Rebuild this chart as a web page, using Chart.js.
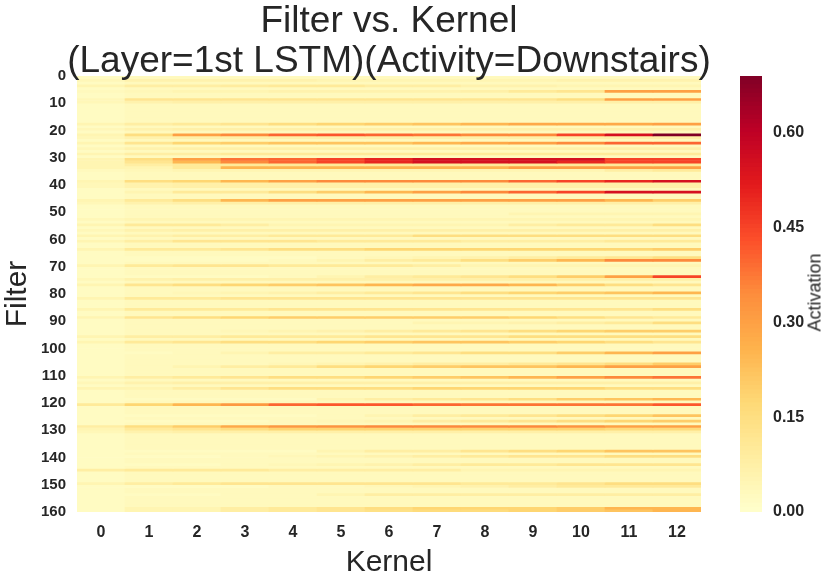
<!DOCTYPE html>
<html>
<head>
<meta charset="utf-8">
<script src="https://cdn.jsdelivr.net/npm/chart.js@4"></script>
<style>
  body { margin: 0; background: #fff; font-family: "Liberation Sans", Arial, sans-serif; }
  #wrap { position: relative; width: 833px; height: 581px; }
  #title { position: absolute; left: 0; top: 0; width: 778px; text-align: center; font-size: 37px; line-height: 40px; color: #262626; }
  #main { position: absolute; left: 0; top: 0; width: 720px; height: 581px; }
  #bar { position: absolute; left: 725px; top: 0; width: 108px; height: 581px; }
  #cbtitle { position: absolute; left: 765px; top: 282px; width: 100px; text-align: center; font-size: 18px; color: #262626; transform: rotate(-90deg); }
</style>
</head>
<body>
<div id="wrap">
  <div id="main"><canvas id="heat"></canvas></div>
  <div id="bar"><canvas id="cbar"></canvas></div>
  <div id="title">Filter vs. Kernel<br>(Layer=1st LSTM)(Activity=Downstairs)</div>
  <div id="cbtitle">Activation</div>
</div>
<script>
// kernels on x, filters on y
const kernels = ["0", "1", "2", "3", "4", "5", "6", "7", "8", "9", "10", "11", "12"];
const filterCount = 160;
const vmax = 0.69;
const cbarTicks = [0, 0.15, 0.30, 0.45, 0.60];

// quiet rows (most filters)
const quietRow = [0.02, 0.03, 0.03, 0.03, 0.03, 0.03, 0.03, 0.03, 0.03, 0.03, 0.03, 0.03, 0.03];
const softRow = [0.04, 0.06, 0.07, 0.07, 0.07, 0.07, 0.07, 0.07, 0.07, 0.07, 0.07, 0.07, 0.07];

// rows that stand out
const activeRows = {
  1: [0.04, 0.06, 0.06, 0.06, 0.06, 0.05, 0.05, 0.05, 0.05, 0.05, 0.06, 0.06, 0.06],
  3: [0.05, 0.08, 0.08, 0.09, 0.1, 0.1, 0.08, 0.08, 0.06, 0.06, 0.05, 0.05, 0.05],
  5: [0.03, 0.04, 0.05, 0.05, 0.06, 0.06, 0.06, 0.06, 0.07, 0.1, 0.12, 0.3, 0.3],
  8: [0.04, 0.12, 0.12, 0.12, 0.12, 0.12, 0.12, 0.12, 0.12, 0.12, 0.15, 0.3, 0.3],
  9: softRow,
  17: [0.05, 0.08, 0.1, 0.12, 0.15, 0.18, 0.2, 0.22, 0.25, 0.28, 0.28, 0.28, 0.3],
  19: softRow,
  21: [0.05, 0.15, 0.3, 0.35, 0.4, 0.42, 0.4, 0.38, 0.35, 0.35, 0.45, 0.55, 0.69],
  22: softRow,
  24: [0.05, 0.12, 0.18, 0.2, 0.22, 0.22, 0.22, 0.25, 0.28, 0.3, 0.35, 0.4, 0.4],
  26: softRow,
  28: [0.05, 0.08, 0.08, 0.1, 0.1, 0.1, 0.1, 0.1, 0.1, 0.1, 0.1, 0.1, 0.1],
  30: [0.05, 0.15, 0.3, 0.38, 0.4, 0.45, 0.5, 0.55, 0.55, 0.55, 0.55, 0.45, 0.45],
  31: [0.05, 0.12, 0.25, 0.35, 0.4, 0.45, 0.5, 0.55, 0.55, 0.55, 0.5, 0.45, 0.45],
  32: [0.05, 0.08, 0.1, 0.1, 0.1, 0.1, 0.1, 0.1, 0.1, 0.1, 0.1, 0.1, 0.1],
  33: [0.05, 0.05, 0.1, 0.25, 0.25, 0.25, 0.25, 0.25, 0.25, 0.3, 0.3, 0.3, 0.3],
  34: [0.03, 0.04, 0.05, 0.05, 0.05, 0.05, 0.05, 0.05, 0.05, 0.05, 0.05, 0.08, 0.1],
  38: [0.05, 0.15, 0.18, 0.25, 0.3, 0.35, 0.35, 0.35, 0.35, 0.4, 0.45, 0.5, 0.55],
  39: softRow,
  40: softRow,
  42: [0.02, 0.05, 0.1, 0.1, 0.15, 0.2, 0.25, 0.3, 0.35, 0.4, 0.45, 0.55, 0.55],
  45: [0.05, 0.1, 0.15, 0.25, 0.3, 0.3, 0.3, 0.3, 0.3, 0.3, 0.3, 0.25, 0.2],
  46: softRow,
  50: [0.02, 0.03, 0.03, 0.03, 0.03, 0.03, 0.03, 0.03, 0.03, 0.05, 0.05, 0.05, 0.05],
  52: [0.04, 0.05, 0.05, 0.05, 0.05, 0.05, 0.05, 0.05, 0.05, 0.05, 0.05, 0.05, 0.05],
  54: [0.05, 0.1, 0.1, 0.08, 0.05, 0.05, 0.05, 0.05, 0.05, 0.08, 0.1, 0.1, 0.15],
  56: softRow,
  58: [0.05, 0.06, 0.08, 0.08, 0.1, 0.1, 0.1, 0.15, 0.15, 0.15, 0.15, 0.15, 0.15],
  60: [0.05, 0.08, 0.12, 0.12, 0.12, 0.1, 0.1, 0.1, 0.08, 0.08, 0.08, 0.1, 0.1],
  63: [0.05, 0.1, 0.1, 0.12, 0.15, 0.15, 0.18, 0.18, 0.18, 0.18, 0.18, 0.18, 0.2],
  66: [0.02, 0.02, 0.02, 0.02, 0.02, 0.03, 0.04, 0.05, 0.06, 0.08, 0.1, 0.12, 0.15],
  67: [0.02, 0.02, 0.02, 0.02, 0.03, 0.05, 0.08, 0.1, 0.15, 0.2, 0.25, 0.35, 0.35],
  69: [0.05, 0.1, 0.12, 0.12, 0.1, 0.1, 0.1, 0.08, 0.05, 0.05, 0.05, 0.05, 0.05],
  73: [0.02, 0.02, 0.02, 0.02, 0.03, 0.05, 0.08, 0.1, 0.12, 0.15, 0.2, 0.3, 0.45],
  74: softRow,
  76: [0.05, 0.12, 0.15, 0.18, 0.2, 0.22, 0.25, 0.28, 0.28, 0.25, 0.2, 0.15, 0.12],
  79: [0.02, 0.03, 0.04, 0.05, 0.06, 0.08, 0.1, 0.12, 0.15, 0.18, 0.2, 0.22, 0.25],
  81: [0.05, 0.1, 0.1, 0.12, 0.12, 0.12, 0.12, 0.12, 0.12, 0.12, 0.12, 0.12, 0.12],
  85: [0.05, 0.1, 0.1, 0.1, 0.12, 0.12, 0.12, 0.12, 0.12, 0.12, 0.12, 0.12, 0.15],
  88: [0.05, 0.12, 0.15, 0.18, 0.2, 0.2, 0.2, 0.2, 0.2, 0.18, 0.15, 0.12, 0.1],
  90: [0.02, 0.03, 0.03, 0.03, 0.03, 0.03, 0.03, 0.05, 0.05, 0.06, 0.08, 0.1, 0.15],
  93: [0.02, 0.03, 0.03, 0.04, 0.05, 0.06, 0.08, 0.1, 0.12, 0.15, 0.18, 0.2, 0.2],
  95: [0.05, 0.08, 0.08, 0.1, 0.1, 0.1, 0.12, 0.12, 0.12, 0.15, 0.15, 0.15, 0.15],
  97: [0.05, 0.1, 0.12, 0.15, 0.15, 0.18, 0.2, 0.22, 0.22, 0.2, 0.18, 0.15, 0.12],
  101: [0.02, 0.02, 0.03, 0.05, 0.08, 0.08, 0.1, 0.12, 0.15, 0.15, 0.2, 0.25, 0.3],
  105: [0.02, 0.03, 0.03, 0.03, 0.04, 0.05, 0.06, 0.08, 0.08, 0.1, 0.12, 0.15, 0.2],
  106: [0.02, 0.03, 0.05, 0.08, 0.1, 0.15, 0.18, 0.2, 0.22, 0.22, 0.25, 0.3, 0.3],
  110: [0.05, 0.08, 0.1, 0.12, 0.15, 0.15, 0.18, 0.2, 0.22, 0.25, 0.3, 0.35, 0.38],
  112: softRow,
  114: [0.05, 0.05, 0.08, 0.12, 0.15, 0.15, 0.15, 0.18, 0.18, 0.18, 0.18, 0.15, 0.15],
  118: [0.02, 0.02, 0.02, 0.02, 0.02, 0.05, 0.08, 0.1, 0.12, 0.15, 0.2, 0.22, 0.25],
  120: [0.1, 0.18, 0.25, 0.32, 0.4, 0.42, 0.42, 0.4, 0.38, 0.38, 0.38, 0.38, 0.42],
  124: [0.02, 0.02, 0.02, 0.02, 0.02, 0.03, 0.05, 0.08, 0.1, 0.12, 0.15, 0.18, 0.22],
  126: [0.02, 0.02, 0.02, 0.02, 0.03, 0.04, 0.05, 0.08, 0.1, 0.12, 0.15, 0.18, 0.2],
  128: [0.08, 0.15, 0.2, 0.28, 0.32, 0.33, 0.35, 0.35, 0.35, 0.35, 0.33, 0.3, 0.3],
  129: [0.05, 0.1, 0.12, 0.15, 0.18, 0.18, 0.18, 0.18, 0.18, 0.18, 0.18, 0.16, 0.16],
  130: softRow,
  137: [0.02, 0.02, 0.02, 0.02, 0.02, 0.05, 0.08, 0.08, 0.12, 0.15, 0.18, 0.22, 0.22],
  139: [0.02, 0.02, 0.02, 0.03, 0.04, 0.05, 0.06, 0.08, 0.1, 0.12, 0.12, 0.15, 0.15],
  142: [0.02, 0.02, 0.02, 0.03, 0.04, 0.05, 0.06, 0.08, 0.1, 0.1, 0.12, 0.12, 0.12],
  144: [0.08, 0.1, 0.1, 0.1, 0.08, 0.08, 0.08, 0.08, 0.05, 0.05, 0.05, 0.05, 0.05],
  149: [0.05, 0.08, 0.1, 0.12, 0.12, 0.12, 0.12, 0.12, 0.1, 0.1, 0.12, 0.15, 0.15],
  150: [0.02, 0.02, 0.02, 0.02, 0.03, 0.03, 0.04, 0.05, 0.06, 0.08, 0.1, 0.1, 0.1],
  153: [0.02, 0.02, 0.02, 0.03, 0.03, 0.05, 0.08, 0.08, 0.08, 0.08, 0.08, 0.08, 0.08],
  158: [0.02, 0.05, 0.05, 0.08, 0.1, 0.12, 0.15, 0.18, 0.18, 0.18, 0.2, 0.25, 0.25],
  159: [0.02, 0.05, 0.05, 0.08, 0.1, 0.12, 0.14, 0.16, 0.16, 0.18, 0.2, 0.22, 0.25]
};

// YlOrRd
const stops = ["#ffffcc", "#ffeda0", "#fed976", "#feb24c", "#fd8d3c", "#fc4e2a", "#e31a1c", "#bd0026", "#800026"];
function hex(h) { return [1, 3, 5].map(i => parseInt(h.substr(i, 2), 16)); }
function colorOf(v) {
  let t = Math.max(0, Math.min(1, v / vmax)) * (stops.length - 1);
  let i = Math.min(Math.floor(t), stops.length - 2);
  let f = t - i;
  let a = hex(stops[i]), b = hex(stops[i + 1]);
  let c = a.map((x, k) => Math.round(x + (b[k] - x) * f));
  return `rgb(${c[0]},${c[1]},${c[2]})`;
}

const tickFont = { family: "'Liberation Sans', Arial, sans-serif", size: 15, weight: "bold" };
const ink = "#262626";

let datasets = [];
for (let r = 0; r < filterCount; r++) {
  let row = activeRows[r] || quietRow;
  datasets.push({
    data: row.map(() => [r, r + 1]),
    backgroundColor: row.map(colorOf),
    borderWidth: 0,
    grouped: false,
    barPercentage: 1,
    categoryPercentage: 1
  });
}

new Chart(document.getElementById("heat"), {
  type: "bar",
  data: { labels: kernels, datasets: datasets },
  options: {
    responsive: true,
    maintainAspectRatio: false,
    animation: false,
    layout: { padding: { top: 76, right: 19 } },
    plugins: { legend: { display: false }, tooltip: { enabled: false } },
    scales: {
      x: {
        grid: { display: false }, border: { display: false },
        ticks: { font: { ...tickFont, size: 16 }, color: ink, maxRotation: 0 },
        title: { display: true, text: "Kernel", font: { size: 30 }, color: ink, padding: 0 },
        afterFit: s => { s.height = 69; }
      },
      y: {
        reverse: true, min: 0, max: filterCount,
        grid: { display: false }, border: { display: false },
        ticks: { stepSize: 10, font: tickFont, color: ink, autoSkip: false },
        title: { display: true, text: "Filter", font: { size: 30 }, color: ink, padding: 0 },
        afterFit: s => { s.width = 77; }
      }
    }
  }
});

// colour bar
const cbarSteps = [];
for (let i = 0; i < 100; i++) cbarSteps.push(i * vmax / 100);
new Chart(document.getElementById("cbar"), {
  type: "bar",
  data: {
    labels: ["c"],
    datasets: cbarSteps.map(v => ({
      data: [[v, v + vmax / 100 + 0.0005]],
      backgroundColor: colorOf(v + vmax / 200),
      borderWidth: 0, grouped: false, barPercentage: 1, categoryPercentage: 1
    }))
  },
  options: {
    responsive: true,
    maintainAspectRatio: false,
    animation: false,
    layout: { padding: { top: 76, bottom: 69, left: 15 } },
    plugins: { legend: { display: false }, tooltip: { enabled: false } },
    scales: {
      x: { display: false },
      y: {
        position: "right", min: 0, max: vmax,
        grid: { display: false }, border: { display: false },
        afterBuildTicks: s => { s.ticks = cbarTicks.map(v => ({ value: v })); },
        ticks: { font: { ...tickFont, size: 16 }, color: ink, callback: v => v.toFixed(2) },
        afterFit: s => { s.width = 71; }
      }
    }
  }
});
</script>
</body>
</html>
